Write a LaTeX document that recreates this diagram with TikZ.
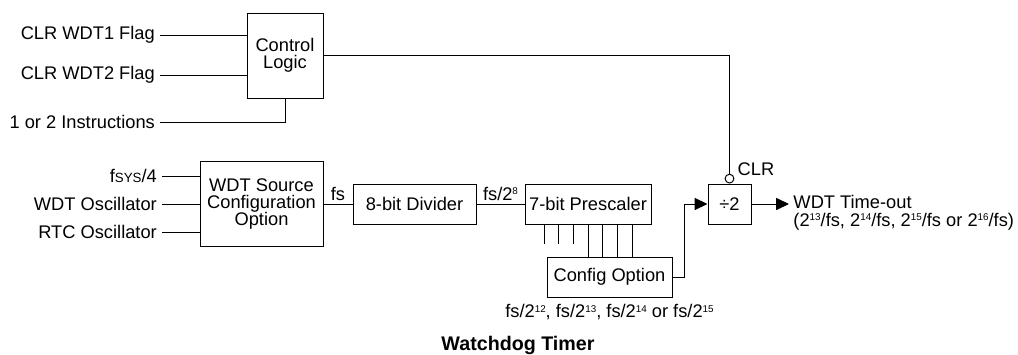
\documentclass[tikz,border=0pt]{standalone}
\usepackage{fontspec}
\setmainfont{Liberation Sans}
\usetikzlibrary{arrows.meta,positioning}
\newcommand{\diagfont}{\fontsize{13}{12.4}\selectfont}
\newcommand{\titlefont}{\fontsize{14}{14}\selectfont\bfseries}
\newcommand{\fsub}[1]{{\fontsize{9.5}{9.5}\selectfont #1}}
\newcommand{\expo}[1]{\raisebox{4pt}{\fontsize{7}{7}\selectfont #1}}
\begin{document}
\begin{tikzpicture}[font=\diagfont, line width=0.7pt,
    blk/.style={draw, inner sep=1pt, align=center},
    tip/.style={-{Triangle[length=0.32cm, width=0.3cm]}}]
  \useasboundingbox (0,0) rectangle (25.45,8.85);
  % blocos
  \node[blk, minimum width=1.9cm, minimum height=2.125cm] (ctrl) at (7.125,7.4625) {Control\\Logic};
  \node[blk, minimum width=3.075cm, minimum height=2.125cm] (src) at (6.5375,3.75) {WDT Source\\Configuration\\Option};
  \node[blk, minimum width=3.075cm, minimum height=1cm] (div8) at (10.3625,3.75) {8-bit Divider};
  \node[blk, minimum width=3.15cm, minimum height=1cm] (pre7) at (14.7,3.75) {7-bit Prescaler};
  \node[blk, minimum width=1.075cm, minimum height=1cm] (half) at (18.2375,3.75) {÷2};
  \node[blk, minimum width=3.125cm, minimum height=1cm] (cfg) at (15.2375,1.925) {Config Option};
  % entradas
  \node[anchor=east] (wdt1) at (4.0,7.975) {CLR WDT1 Flag};
  \node[anchor=east] (wdt2) at (4.0,6.975) {CLR WDT2 Flag};
  \node[anchor=east] (instr) at (4.0,5.8) {1 or 2 Instructions};
  \node[anchor=east] (fsys) at (4.05,4.45) {f\fsub{SYS}/4};
  \node[anchor=east] (wdtosc) at (4.05,3.75) {WDT Oscillator};
  \node[anchor=east] (rtcosc) at (4.05,3.05) {RTC Oscillator};
  \draw (wdt1.east) -- (wdt1.east -| ctrl.west);
  \draw (wdt2.east) -- (wdt2.east -| ctrl.west);
  \draw (instr.east) -| (ctrl.south);
  \foreach \n in {fsys,wdtosc,rtcosc}
    \draw (\n.east) -- (\n.east -| src.west);
  \draw (src) -- node[above, inner sep=2pt] (fslbl) {fs} (div8);
  \draw (div8) -- node[above, inner sep=2pt] (fs8lbl) {fs/2\expo{8}} (pre7);
  % saidas do prescaler: tres soltas, quatro para o Config Option
  \foreach \x in {13.6,13.967,14.333}
    \draw (\x,0 |- pre7.south) -- (\x,2.75);
  \foreach \x in {14.7,15.067,15.433,15.8}
    \draw (\x,0 |- pre7.south) -- (\x,0 |- cfg.north);
  \draw[tip] (cfg.east) -- ++(0.3,0) |- (half.west);
  \node[circle, draw, inner sep=0pt, minimum size=0.22cm, anchor=south] (clrdot) at (half.north) {};
  \node[anchor=south west, inner sep=2pt] (clrlbl) at (clrdot.east) {CLR};
  \draw (ctrl.east) -| (clrdot.north);
  \node[anchor=base west, inner sep=0pt] (tout) at (19.825,3.64) {WDT Time-out};
  \draw[tip] (half.east) -- (half.east -| 19.725,0);
  \node[anchor=base west, inner sep=0pt] (tper) at (19.825,3.2) {(2\expo{13}/fs, 2\expo{14}/fs, 2\expo{15}/fs or 2\expo{16}/fs)};
  \node[below=0.05cm of cfg] (fsel) {fs/2\expo{12}, fs/2\expo{13}, fs/2\expo{14} or fs/2\expo{15}};
  \node[font=\titlefont] (title) at (12.95,0.225) {Watchdog Timer};
\end{tikzpicture}
\end{document}
